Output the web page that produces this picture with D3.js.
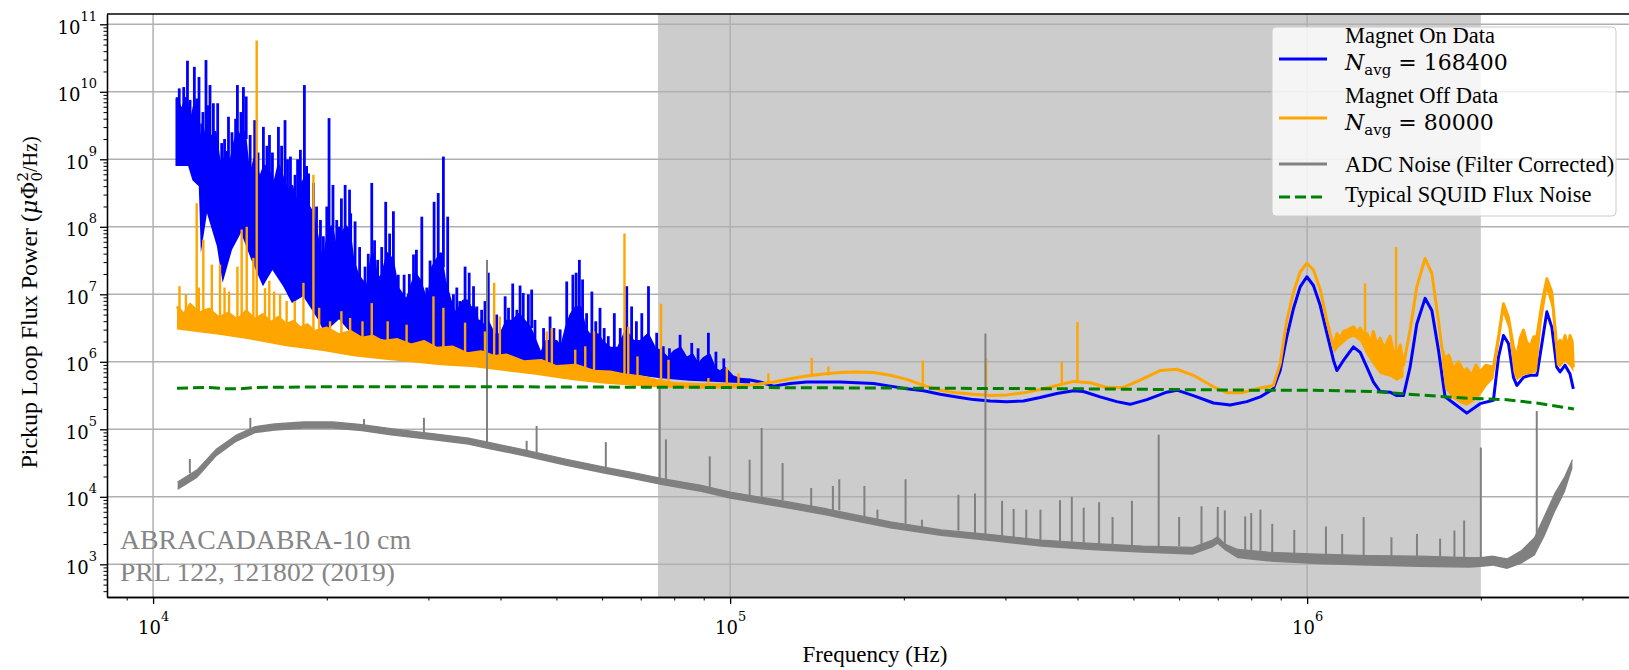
<!DOCTYPE html>
<html>
<head>
<meta charset="utf-8">
<script src="https://cdn.jsdelivr.net/npm/d3@7"></script>
<style>
  html, body { margin: 0; padding: 0; background: #fff; overflow: hidden; }
  svg { display: block; }
</style>
</head>
<body>
<svg id="chart" width="1629" height="670"></svg>
<script>
// frequencies in kHz, power as log10 of (muPhi0^2/Hz)
const freqDomain = [8320, 3.82e6]
const powerDomain = [328, 1.42e11]
const shadedBand = [75, 2000]

// upper edge of the dense magnet-on band, then the smooth trace
const magnetOnTrace = [
  [11.0, 8.9], [11.0, 9.9], [11.2, 9.7], [11.4, 9.9], [11.6, 9.5], [11.8, 9.8], [12.0, 9.4], [12.2, 9.2],
  [12.4, 9.5], [12.6, 9.3], [12.8, 9.4], [13.0, 9.0], [13.2, 8.9], [13.4, 9.1], [13.6, 8.9], [13.8, 9.2],
  [14.0, 9.4], [14.2, 9.3], [14.4, 9.4], [14.6, 8.9], [14.8, 8.8], [15.0, 9.0], [15.3, 8.7], [15.6, 8.9],
  [15.9, 8.8], [16.2, 8.6], [16.5, 8.9], [16.8, 8.7], [17.1, 8.5], [17.4, 8.6], [17.7, 8.3], [18.0, 8.6],
  [18.3, 8.7], [18.6, 8.3], [18.9, 8.2], [19.2, 7.9], [19.5, 7.6], [19.8, 7.5], [20.1, 7.9], [20.4, 8.0],
  [20.7, 7.7], [21.0, 7.6], [21.3, 7.9], [21.6, 8.0], [21.9, 7.9], [22.2, 7.5], [22.6, 7.3], [23.0, 7.2],
  [23.5, 7.1], [24.0, 7.6], [24.5, 7.2], [25.0, 7.3], [25.5, 7.6], [26.0, 7.5], [26.5, 7.1], [27.0, 7.0],
  [27.5, 6.9], [28.0, 7.1], [28.5, 7.3], [29.0, 7.2], [29.5, 7.0], [30.0, 6.9], [30.5, 7.4], [31.0, 7.5],
  [31.5, 7.6], [32.0, 7.2], [32.5, 7.0], [33.0, 6.8], [33.5, 6.7], [34.0, 6.8], [34.5, 6.9], [35.0, 6.9],
  [35.5, 6.8], [36.0, 6.8], [36.5, 6.6], [37.0, 6.6], [37.5, 6.5], [38.0, 6.6], [39.0, 6.4], [40.0, 6.4],
  [41.0, 6.6], [42.0, 6.6], [43.0, 6.7], [44.0, 6.6], [45.0, 6.5], [46.0, 6.3], [47.0, 6.1], [48.0, 6.3],
  [49.0, 6.3], [50.0, 6.3], [51.0, 6.2], [52.0, 6.5], [53.0, 6.7], [54.0, 6.8], [55.0, 6.8], [56.0, 6.5],
  [57.0, 6.4], [58.0, 6.4], [59.0, 6.4], [60.0, 6.3], [62.0, 6.2], [64.0, 6.2], [66.0, 6.45], [68.0, 6.3],
  [70.0, 6.3], [72.0, 6.4], [74.0, 6.2], [76.0, 6.15], [78.0, 6.05], [80.0, 6.15], [82.0, 6.2], [84.0, 6.05],
  [86.0, 6.1], [88.0, 5.95], [90.0, 6.05], [92.0, 6.1], [94.0, 5.9], [96.0, 5.85], [98.0, 5.9], [101.0, 5.78],
  [104.0, 5.74], [108.3, 5.73], [112.7, 5.7], [118.9, 5.64], [127.1, 5.68], [135.8, 5.7], [155.1, 5.7], [177.2, 5.68],
  [189.4, 5.64], [202.4, 5.6], [216.3, 5.57], [231.2, 5.52], [247.1, 5.48], [264.1, 5.44], [282.2, 5.42], [301.6, 5.41],
  [322.3, 5.42], [344.6, 5.47], [368.4, 5.53], [393.6, 5.57], [409.6, 5.56], [437.8, 5.48], [468.0, 5.41], [493.4, 5.37],
  [527.6, 5.44], [571.3, 5.55], [594.6, 5.58], [635.1, 5.5], [688.1, 5.39], [735.6, 5.36], [786.2, 5.41], [828.9, 5.48],
  [874, 5.6], [898, 5.87], [922, 6.37], [947, 6.79], [972.5, 7.11], [998.8, 7.26], [1025.5, 7.13], [1053, 6.84],
  [1082, 6.42], [1111, 6.02], [1126, 5.87], [1156, 6.02], [1203, 6.22], [1236, 6.14], [1269, 5.92], [1303, 5.7],
  [1338, 5.56], [1392, 5.55], [1430, 5.5], [1469, 5.5], [1508, 5.92], [1549, 6.56], [1601, 6.94], [1645, 6.76],
  [1689, 6.17], [1734, 5.48], [1793, 5.39], [1891, 5.24], [1994, 5.38], [2103, 5.43], [2146, 6.07], [2189, 6.39],
  [2233, 6.27], [2278, 5.77], [2309, 5.65], [2371, 5.77], [2435, 5.8], [2501, 5.8], [2552, 6.27], [2603, 6.74],
  [2655, 6.51], [2708, 5.92], [2744, 5.85], [2799, 5.95], [2855, 5.82], [2893, 5.6]
]
const magnetOnFloor = [[
  [11.0, 8.9], [11.5, 8.9], [11.7, 8.69], [12.0, 8.6], [12.1, 7.61], [12.4, 8.2], [12.9, 7.71], [13.2, 7.17],
  [13.7, 7.66], [14.2, 7.91], [14.8, 7.51], [15.5, 7.12], [16.1, 7.36], [16.8, 7.12], [17.4, 6.87], [18.2, 6.97],
  [19.3, 6.63], [19.8, 6.43], [21.0, 6.63], [22.0, 6.43], [23.0, 6.33], [25.0, 6.33], [27.0, 6.28], [29.0, 6.23],
  [31.0, 6.2], [33.0, 6.13], [35.0, 6.08], [38.0, 6.03], [42.0, 6.0], [47.0, 5.93], [55.0, 5.88], [65.0, 5.83],
  [75.0, 5.76], [85.0, 5.72], [95.0, 5.7], [108.3, 5.68]
]]
// [kHz, base, top]
const magnetOnSpikes = [
  [11.1, 9.8, 10.05], [11.3, 9.7, 10.07], [11.47, 9.7, 10.46], [11.59, 9.5, 9.88], [11.79, 9.5, 10.37], [11.9, 9.4, 9.9],
  [12.01, 9.4, 10.22], [12.14, 9.2, 9.53], [12.2, 9.2, 9.7], [12.35, 9.2, 10.47], [12.45, 9.3, 9.8], [12.55, 9.3, 10.1],
  [12.72, 9.3, 9.83], [12.94, 9.0, 9.83], [13.15, 8.9, 9.24], [13.3, 8.9, 9.3], [13.51, 8.9, 9.63], [13.7, 8.9, 9.4],
  [13.9, 9.0, 9.6], [14.0, 9.2, 10.1], [14.2, 9.2, 9.7], [14.34, 9.3, 10.07], [14.5, 9.3, 9.93], [14.73, 8.8, 9.36],
  [15.0, 8.8, 9.58], [15.2, 8.8, 9.1], [15.53, 8.7, 9.48], [15.75, 8.7, 9.2], [15.91, 8.7, 9.36], [16.1, 8.6, 9.1],
  [16.49, 8.6, 9.48], [16.7, 8.6, 9.2], [16.93, 8.6, 9.58], [17.1, 8.5, 9.0], [17.3, 8.5, 9.04], [17.62, 8.3, 8.77],
  [17.8, 8.3, 9.0], [18.0, 8.3, 9.14], [18.29, 8.4, 10.1], [18.45, 8.3, 8.9], [18.6, 8.2, 8.79], [18.96, 8.0, 8.65],
  [19.2, 7.8, 8.3], [19.5, 7.6, 8.1], [19.73, 7.5, 7.86], [20.0, 7.7, 8.3], [20.18, 7.8, 9.61], [20.5, 7.7, 8.62],
  [20.81, 7.6, 8.1], [21.0, 7.6, 8.0], [21.2, 7.7, 8.42], [21.52, 7.8, 8.62], [21.9, 7.8, 8.55], [22.0, 7.6, 8.2],
  [22.39, 7.3, 8.08], [22.8, 7.2, 7.7], [23.3, 7.1, 7.41], [23.6, 7.2, 7.6], [23.93, 7.3, 8.65], [24.2, 7.3, 7.8],
  [24.5, 7.2, 7.51], [24.9, 7.2, 7.7], [25.3, 7.3, 8.37], [25.7, 7.3, 7.9], [26.09, 7.3, 8.23], [26.6, 7.0, 7.29],
  [27.23, 6.9, 7.29], [27.8, 6.9, 7.3], [28.27, 7.1, 7.59], [28.6, 7.1, 7.66], [29.22, 7.0, 8.15], [29.8, 6.9, 7.1],
  [30.2, 6.9, 7.5], [30.69, 7.2, 8.37], [31.2, 7.4, 8.5], [31.85, 7.4, 9.04], [32.4, 7.0, 8.15], [33.15, 6.7, 7.0],
  [33.6, 6.7, 7.1], [34.0, 6.7, 6.9], [34.73, 6.8, 7.41], [35.3, 6.8, 7.32], [35.92, 6.7, 7.12], [36.4, 6.6, 6.82],
  [37.1, 6.5, 6.77], [37.6, 6.5, 6.9], [38.1, 6.5, 7.32], [39.4, 6.4, 6.7], [40.75, 6.4, 6.97], [41.3, 6.5, 6.8],
  [42.0, 6.5, 7.16], [42.7, 6.6, 6.77], [43.25, 6.6, 7.13], [43.8, 6.6, 7.02], [44.7, 6.5, 7.0], [45.3, 6.5, 7.07],
  [45.9, 6.3, 6.62], [47.5, 6.1, 6.5], [48.75, 6.3, 6.67], [49.5, 6.2, 6.5], [50.75, 6.2, 6.48], [52.1, 6.5, 7.19],
  [53.4, 6.6, 7.29], [54.1, 6.7, 7.32], [54.8, 6.7, 7.51], [55.5, 6.6, 7.22], [56.4, 6.4, 6.72], [57.6, 6.4, 7.04],
  [58.5, 6.3, 6.6], [59.5, 6.3, 6.8], [60.5, 6.2, 6.5], [61.5, 6.2, 6.38], [63.0, 6.2, 6.72], [64.5, 6.2, 6.5],
  [66.2, 6.3, 7.12], [67.5, 6.3, 6.82], [68.8, 6.3, 6.6], [70.3, 6.3, 6.72], [72.2, 6.3, 7.12], [74.6, 6.2, 6.43],
  [76.6, 6.1, 6.23], [78.5, 6.0, 6.2], [81.9, 6.1, 6.4], [85.8, 6.0, 6.28], [88.0, 5.95, 6.2], [91.7, 6.0, 6.43],
  [94.5, 5.9, 6.15], [97.5, 5.85, 6.05]
]

// upper edge of the magnet-off trace (noise tops where the band is noisy)
const magnetOffTrace = [
  [11.0, 6.82], [11.3, 6.7], [11.6, 6.85], [12.0, 6.72], [12.5, 6.78], [13.0, 6.65], [13.5, 6.72], [14.0, 6.62],
  [14.5, 6.75], [15.0, 6.63], [15.5, 6.7], [16.0, 6.58], [16.5, 6.66], [17.0, 6.55], [17.5, 6.6], [18.0, 6.5],
  [18.5, 6.55], [19.0, 6.45], [20.0, 6.5], [21.0, 6.4], [22.0, 6.45], [23.0, 6.35], [24.0, 6.38], [25.0, 6.3],
  [26.5, 6.33], [28.0, 6.25], [29.5, 6.3], [31.0, 6.2], [33.0, 6.22], [35.0, 6.12], [37.0, 6.15], [39.0, 6.08],
  [41.0, 6.1], [44.0, 6.0], [47.0, 6.02], [50.0, 5.93], [54.0, 5.95], [58.0, 5.86], [62.0, 5.85], [66.0, 5.8],
  [70.0, 5.78], [75.0, 5.72], [80.0, 5.68], [90.0, 5.66], [100.0, 5.66], [104.1, 5.65], [110.0, 5.66], [118.9, 5.7],
  [127.1, 5.75], [135.8, 5.79], [145.0, 5.82], [155.1, 5.84], [166.0, 5.85], [177.2, 5.84], [189.4, 5.8], [202.4, 5.74],
  [216.3, 5.65], [231.2, 5.58], [247.1, 5.54], [264.1, 5.52], [282.2, 5.5], [301.6, 5.51], [322.3, 5.54], [344.6, 5.59],
  [368.4, 5.65], [393.6, 5.71], [420.6, 5.69], [449.6, 5.62], [480.4, 5.62], [513.5, 5.73], [555.9, 5.87], [594.6, 5.89],
  [635.1, 5.8], [688.1, 5.63], [728.0, 5.54], [770.0, 5.54], [818.0, 5.6], [874.0, 5.65], [898.0, 5.97], [922.0, 6.61],
  [947.0, 7.03], [972.5, 7.33], [998.8, 7.46], [1025.5, 7.36], [1053.0, 7.08], [1082.0, 6.61], [1111.0, 6.22], [1126.0, 6.42],
  [1141.0, 6.35], [1156.0, 6.45], [1180.0, 6.48], [1203.0, 6.52], [1220.0, 6.45], [1236.0, 6.5], [1255.0, 6.4], [1269.0, 6.42],
  [1290.0, 6.3], [1303.0, 6.45], [1320.0, 6.25], [1338.0, 6.35], [1360.0, 6.2], [1392.0, 6.38], [1410.0, 6.15], [1430.0, 6.1],
  [1450.0, 6.25], [1469.0, 5.95], [1508.0, 6.47], [1549.0, 7.11], [1601.0, 7.53], [1645.0, 7.31], [1689.0, 6.61], [1712.0, 6.2],
  [1734.0, 6.05], [1760.0, 6.1], [1793.0, 5.9], [1830.0, 6.0], [1870.0, 5.85], [1891.0, 5.9], [1930.0, 5.8], [1960.0, 5.95],
  [1994.0, 5.85], [2040.0, 5.95], [2103.0, 5.92], [2146.0, 6.37], [2189.0, 6.86], [2233.0, 6.66], [2278.0, 6.22], [2309.0, 6.07],
  [2340.0, 6.35], [2371.0, 6.47], [2400.0, 6.3], [2435.0, 6.22], [2470.0, 6.37], [2501.0, 6.37], [2552.0, 6.86], [2603.0, 7.23],
  [2655.0, 7.03], [2708.0, 6.22], [2744.0, 6.32], [2770.0, 6.25], [2799.0, 6.39], [2830.0, 6.2], [2855.0, 6.39], [2880.0, 6.3],
  [2893.0, 5.92]
]
const magnetOffFloor = [
  [[11.0, 6.48], [13.0, 6.4], [14.73, 6.33], [17.0, 6.23], [19.7, 6.16], [22.4, 6.08], [25.3, 6.03], [28.3, 5.99],
   [31.5, 5.95], [36.0, 5.92], [40.0, 5.87], [46.0, 5.81], [53.0, 5.73], [60.0, 5.68], [69.0, 5.64], [75.0, 5.62],
   [90.0, 5.6], [104.1, 5.61]],
  [[1111.0, 6.12], [1130.0, 6.2], [1156.0, 6.28], [1180.0, 6.34], [1203.0, 6.37], [1236.0, 6.3], [1269.0, 6.1], [1303.0, 5.95],
   [1338.0, 5.82], [1392.0, 5.78], [1430.0, 5.72], [1469.0, 5.77]],
  [[1712.0, 6.0], [1734.0, 5.6], [1793.0, 5.45], [1850.0, 5.38], [1891.0, 5.35], [1950.0, 5.42], [1994.0, 5.5], [2050.0, 5.65],
   [2103.0, 5.75], [2146.0, 6.2], [2189.0, 6.7], [2233.0, 6.5], [2278.0, 5.85], [2309.0, 5.72], [2371.0, 5.8], [2435.0, 5.82],
   [2501.0, 5.85], [2552.0, 6.6], [2603.0, 7.05], [2655.0, 6.8], [2708.0, 5.95], [2744.0, 5.92], [2799.0, 6.0], [2855.0, 5.93],
   [2893.0, 5.85]]
]
const magnetOffSpikes = [
  [11.11, 6.7, 7.12], [11.4, 6.7, 7.0], [11.9, 6.7, 8.35], [12.0, 6.7, 7.1], [12.22, 6.7, 7.81], [12.64, 6.7, 7.44],
  [13.06, 6.6, 7.44], [13.3, 6.6, 7.1], [13.54, 6.6, 7.04], [14.0, 6.6, 7.41], [14.24, 6.6, 7.96], [14.53, 6.6, 8.0],
  [14.92, 6.6, 7.54], [15.12, 6.6, 10.76], [15.63, 6.6, 7.09], [15.9, 6.6, 7.2], [16.21, 6.5, 7.04], [16.6, 6.5, 7.0],
  [17.04, 6.5, 6.9], [17.6, 6.5, 6.9], [18.22, 6.5, 7.17], [18.96, 6.4, 8.77], [19.4, 6.4, 6.8], [20.26, 6.4, 6.6],
  [21.2, 6.4, 6.75], [21.95, 6.3, 6.65], [23.06, 6.3, 6.6], [23.93, 6.3, 6.87], [25.5, 6.2, 6.6], [27.5, 6.2, 6.55],
  [30.61, 6.1, 6.97], [31.85, 6.1, 6.8], [34.73, 6.0, 6.58], [37.6, 6.0, 6.45], [39.0, 6.0, 7.17], [39.9, 5.95, 6.67],
  [48.1, 5.9, 6.45], [49.1, 5.9, 6.5], [53.9, 5.85, 6.18], [56.1, 5.8, 6.23], [58.1, 5.8, 6.45], [65.6, 5.75, 7.9],
  [66.6, 5.75, 6.52], [69.1, 5.7, 6.08], [75.9, 5.65, 6.86], [78.2, 5.65, 6.03], [91.7, 5.62, 5.76], [98.7, 5.62, 5.91],
  [103.4, 5.62, 5.83], [116.5, 5.68, 5.83], [138.5, 5.78, 6.06], [148.0, 5.8, 5.93], [215.8, 5.65, 6.02], [277.7, 5.5, 6.05],
  [375.7, 5.66, 6.0], [399.9, 5.7, 6.59], [1260.0, 6.3, 7.16], [1426.0, 6.0, 7.7]
]

const adcTrace = [
  [11.03, 4.22], [11.92, 4.4], [12.88, 4.71], [13.91, 4.91], [15.03, 5.04], [16.24, 5.08], [18.24, 5.11], [20.49, 5.11],
  [23.0, 5.07], [25.83, 5.01], [30.2, 4.94], [35.2, 4.87], [38.0, 4.81], [44.4, 4.69], [51.8, 4.56], [60.5, 4.44],
  [67.9, 4.36], [76.3, 4.27], [89.1, 4.17], [100, 4.07], [121.4, 3.95], [147.4, 3.82], [155, 3.78], [189.6, 3.63],
  [231.9, 3.51], [283.4, 3.44], [346.3, 3.36], [423.3, 3.31], [517.6, 3.27], [632.8, 3.25], [685.5, 3.36], [699.4, 3.41],
  [720, 3.3], [758, 3.22], [855, 3.18], [1045, 3.15], [1277, 3.13], [1562, 3.12], [1909, 3.1], [2000, 3.1],
  [2100, 3.12], [2220, 3.08], [2350, 3.2], [2480, 3.4], [2581, 3.72], [2687, 4.05], [2797, 4.3], [2882, 4.55]
]
const adcFloor = [[
  [11.03, 4.1], [11.92, 4.28], [12.88, 4.6], [13.91, 4.81], [15.03, 4.94], [16.24, 4.98], [18.24, 5.01], [20.49, 5.01],
  [23.0, 4.97], [25.83, 4.91], [30.2, 4.84], [35.2, 4.77], [38.0, 4.71], [44.4, 4.59], [51.8, 4.46], [60.5, 4.34],
  [67.9, 4.26], [76.3, 4.17], [89.1, 4.07], [100, 3.97], [121.4, 3.85], [147.4, 3.72], [155, 3.68], [189.6, 3.53],
  [231.9, 3.42], [283.4, 3.34], [346.3, 3.26], [423.3, 3.21], [517.6, 3.17], [632.8, 3.14], [685.5, 3.25], [699.4, 3.3],
  [720, 3.21], [758, 3.09], [855, 3.04], [1045, 3.0], [1277, 2.98], [1562, 2.96], [1909, 2.95], [2000, 2.96],
  [2100, 2.98], [2220, 2.93], [2350, 3.01], [2480, 3.13], [2581, 3.42], [2687, 3.77], [2797, 4.07], [2882, 4.42]
]]
const adcSpikes = [
  [11.58, 4.35, 4.56], [14.74, 5.0, 5.17], [23.2, 5.05, 5.15], [29.47, 4.95, 5.17], [37.9, 4.8, 7.51], [44.4, 4.65, 4.83],
  [46.2, 4.6, 5.05], [60.9, 4.4, 4.81], [75.5, 4.25, 5.6], [77.4, 4.2, 4.85], [92.2, 4.1, 4.6], [108.1, 4.0, 4.55],
  [113.4, 4.0, 5.02], [123.3, 3.95, 4.5], [138.2, 3.85, 4.13], [150.7, 3.8, 4.16], [154.6, 3.8, 4.26], [170.9, 3.7, 4.16],
  [180, 3.65, 3.81], [201.4, 3.6, 4.26], [215, 3.55, 3.66], [248.7, 3.5, 4.03], [265.7, 3.45, 4.05], [277, 3.45, 6.42],
  [296, 3.42, 3.94], [310, 3.4, 3.82], [326, 3.38, 3.81], [345, 3.36, 3.81], [373, 3.34, 3.95], [391, 3.33, 4.0],
  [410, 3.32, 3.84], [436, 3.3, 3.92], [460, 3.3, 3.7], [497, 3.28, 3.94], [553, 3.26, 4.92], [600, 3.27, 3.7],
  [656, 3.3, 3.86], [700, 3.35, 3.85], [720, 3.28, 3.8], [781, 3.2, 3.71], [800, 3.2, 3.76], [830, 3.2, 3.81],
  [870, 3.18, 3.6], [950, 3.16, 3.51], [1078, 3.14, 3.56], [1150, 3.14, 3.45], [1253, 3.13, 3.7], [1400, 3.12, 3.4],
  [1550, 3.12, 3.45], [1700, 3.11, 3.38], [1800, 3.11, 3.5], [1871, 3.1, 3.65], [2000, 3.1, 4.73], [2500, 3.4, 5.27]
]

const squidNoise = [
  [11.0, 5.61], [12.5, 5.62], [13.4, 5.6], [14.2, 5.6], [15.0, 5.62], [20.0, 5.63], [40.0, 5.63], [100.0, 5.62],
  [200.0, 5.61], [400.0, 5.6], [800.0, 5.58], [1000.0, 5.58], [1300.0, 5.56], [1500.0, 5.52], [1900.0, 5.46],
  [2200.0, 5.44], [2500.0, 5.39], [2900.0, 5.3]
]

const legendLabels = ['Magnet On Data', 'Magnet Off Data', 'ADC Noise (Filter Corrected)', 'Typical SQUID Flux Noise']
const legendNavg = [168400, 80000, null, null]
const legendColors = ['#0000ff', '#ffa500', '#808080', '#008000']
const noteLines = ['ABRACADABRA-10 cm', 'PRL 122, 121802 (2019)']

const SERIF = "'Liberation Serif', 'Times New Roman', serif"
const MATH = "'DejaVu Serif', serif"

const PLOT = { left: 107, right: 1643, top: 14, bottom: 597 }

const svg = d3.select('#chart')
const x = d3.scaleLog().domain(freqDomain).range([PLOT.left, PLOT.right])
const y = d3.scaleLog().domain(powerDomain).range([PLOT.bottom, PLOT.top])

const px = d => x(d[0] * 1e3)
const py = v => y(Math.pow(10, v))
const line = d3.line().x(px).y(d => py(d[1]))

svg.append('clipPath').attr('id', 'plot-clip')
  .append('rect')
  .attr('x', PLOT.left).attr('y', PLOT.top)
  .attr('width', PLOT.right - PLOT.left).attr('height', PLOT.bottom - PLOT.top)

const plot = svg.append('g').attr('clip-path', 'url(#plot-clip)')

// shaded analysis band
plot.append('rect')
  .attr('x', x(shadedBand[0] * 1e3))
  .attr('y', PLOT.top)
  .attr('width', x(shadedBand[1] * 1e3) - x(shadedBand[0] * 1e3))
  .attr('height', PLOT.bottom - PLOT.top)
  .attr('fill', '#cccccc')

const isMajor = d => Math.abs(Math.log10(d) - Math.round(Math.log10(d))) < 1e-9
const xMajor = x.ticks().filter(isMajor)
const xMinor = x.ticks().filter(d => !isMajor(d))
const yMajor = y.ticks().filter(isMajor)
const yMinor = y.ticks().filter(d => !isMajor(d))

// grid
const grid = plot.append('g').attr('stroke', '#b0b0b0').attr('stroke-width', 1.5)
grid.selectAll('.gx').data(xMajor).join('line')
  .attr('x1', d => x(d)).attr('x2', d => x(d))
  .attr('y1', PLOT.top).attr('y2', PLOT.bottom)
grid.selectAll('.gy').data(yMajor).join('line')
  .attr('y1', d => y(d)).attr('y2', d => y(d))
  .attr('x1', PLOT.left).attr('x2', PLOT.right)

function bandPath(trace, floor) {
  const lo = floor[0][0]
  const hi = floor[floor.length - 1][0]
  const top = trace.filter(d => d[0] >= lo && d[0] <= hi)
  return line(top.concat(floor.slice().reverse())) + 'Z'
}

function drawSeries(g, s) {
  s.floors.forEach(f => {
    g.append('path').attr('d', bandPath(s.trace, f)).attr('fill', s.color)
  })
  g.append('path')
    .datum(s.trace)
    .attr('d', line)
    .attr('fill', 'none')
    .attr('stroke', s.color)
    .attr('stroke-width', s.width)
    .attr('stroke-linejoin', 'round')
  g.selectAll(null).data(s.spikes).join('line')
    .attr('x1', px).attr('x2', px)
    .attr('y1', d => py(d[1])).attr('y2', d => py(d[2]))
    .attr('stroke', s.color)
    .attr('stroke-width', s.spikeWidth)
}

drawSeries(plot.append('g'), { trace: magnetOnTrace, floors: magnetOnFloor, spikes: magnetOnSpikes, color: legendColors[0], width: 3, spikeWidth: 2.8 })
drawSeries(plot.append('g'), { trace: magnetOffTrace, floors: magnetOffFloor, spikes: magnetOffSpikes, color: legendColors[1], width: 3, spikeWidth: 2.4 })
drawSeries(plot.append('g'), { trace: adcTrace, floors: adcFloor, spikes: adcSpikes, color: legendColors[2], width: 1.2, spikeWidth: 2 })

plot.append('path')
  .datum(squidNoise)
  .attr('d', line)
  .attr('fill', 'none')
  .attr('stroke', legendColors[3])
  .attr('stroke-width', 3)
  .attr('stroke-dasharray', '11,5')

// annotation
const note = svg.append('g').attr('fill', '#868686').attr('font-family', SERIF)
note.append('text').attr('x', 120).attr('y', 549).attr('font-size', 27)
  .attr('textLength', 291).attr('lengthAdjust', 'spacingAndGlyphs')
  .text(noteLines[0])
note.append('text').attr('x', 120).attr('y', 581).attr('font-size', 26)
  .attr('textLength', 275).attr('lengthAdjust', 'spacingAndGlyphs')
  .text(noteLines[1])

// axes
function powerLabel(sel, size) {
  sel.each(function (d) {
    const t = d3.select(this).text(null)
    t.append('tspan').text('10')
    t.append('tspan').attr('dy', -13).attr('font-size', size * 0.72).text(Math.round(Math.log10(d)))
  })
}

const xAxisMinor = svg.append('g').attr('transform', `translate(0,${PLOT.bottom})`)
  .call(d3.axisBottom(x).tickValues(xMinor).tickSize(3.5).tickSizeOuter(0).tickFormat(''))
const xAxis = svg.append('g').attr('transform', `translate(0,${PLOT.bottom})`)
  .call(d3.axisBottom(x).tickValues(xMajor).tickSize(7).tickSizeOuter(0))
xAxis.selectAll('.tick text')
  .attr('y', 37).attr('dy', null)
  .attr('font-family', MATH).attr('font-size', 18).attr('fill', '#000')
  .call(powerLabel, 18)

const yAxisMinor = svg.append('g').attr('transform', `translate(${PLOT.left},0)`)
  .call(d3.axisLeft(y).tickValues(yMinor).tickSize(3.5).tickSizeOuter(0).tickFormat(''))
const yAxis = svg.append('g').attr('transform', `translate(${PLOT.left},0)`)
  .call(d3.axisLeft(y).tickValues(yMajor).tickSize(7).tickSizeOuter(0))
yAxis.selectAll('.tick text')
  .attr('x', -10).attr('dy', 9)
  .attr('font-family', MATH).attr('font-size', 18).attr('fill', '#000')
  .call(powerLabel, 18)

svg.selectAll('.domain').attr('stroke', '#000').attr('stroke-width', 1.3)
xAxis.selectAll('.tick line').attr('stroke-width', 1.3)
yAxis.selectAll('.tick line').attr('stroke-width', 1.3)
xAxisMinor.selectAll('.tick line').attr('stroke-width', 1)
yAxisMinor.selectAll('.tick line').attr('stroke-width', 1)

svg.append('line')
  .attr('x1', PLOT.left).attr('x2', PLOT.right)
  .attr('y1', PLOT.top).attr('y2', PLOT.top)
  .attr('stroke', '#000').attr('stroke-width', 1.3)

svg.append('text')
  .attr('x', (PLOT.left + PLOT.right) / 2).attr('y', 662)
  .attr('text-anchor', 'middle')
  .attr('font-family', SERIF).attr('font-size', 23)
  .text('Frequency (Hz)')

const yLabel = svg.append('text')
  .attr('transform', `translate(37,${(PLOT.top + PLOT.bottom) / 2 - 3}) rotate(-90)`)
  .attr('text-anchor', 'middle')
  .attr('font-family', SERIF).attr('font-size', 24)
yLabel.append('tspan').text('Pickup Loop Flux Power (')
yLabel.append('tspan').attr('font-family', MATH).attr('font-style', 'italic').attr('font-size', 22).text('\u03bc')
yLabel.append('tspan').attr('font-family', MATH).attr('font-size', 22).text('\u03a6')
yLabel.append('tspan').attr('font-family', MATH).attr('font-size', 15).attr('dy', 5).text('0')
yLabel.append('tspan').attr('font-family', MATH).attr('font-size', 15).attr('dx', -9.5).attr('dy', -14).text('2')
yLabel.append('tspan').attr('dy', 9).attr('font-size', 20).text('/Hz)')

// legend
const legend = svg.append('g')
legend.append('rect')
  .attr('x', 1272).attr('y', 27).attr('width', 344).attr('height', 189)
  .attr('rx', 4)
  .attr('fill', '#fff').attr('fill-opacity', 0.8)
  .attr('stroke', '#cccccc').attr('stroke-width', 1)

const legendLineY = [59, 118, 164, 197]
const legendTextY = [43, 103, 172, 202]
legendLabels.forEach((label, i) => {
  legend.append('line')
    .attr('x1', 1279).attr('x2', 1327)
    .attr('y1', legendLineY[i]).attr('y2', legendLineY[i])
    .attr('stroke', legendColors[i])
    .attr('stroke-width', 3)
    .attr('stroke-dasharray', i === 3 ? '11,5' : null)
  legend.append('text')
    .attr('x', 1345).attr('y', legendTextY[i])
    .attr('font-family', SERIF).attr('font-size', 22.5)
    .text(label)
  if (legendNavg[i] != null) {
    const t = legend.append('text')
      .attr('x', 1345).attr('y', legendTextY[i] + 27)
      .attr('font-family', MATH).attr('font-size', 22)
    t.append('tspan').attr('font-style', 'italic').text('N')
    t.append('tspan').attr('font-size', 15).attr('dy', 5).text('avg')
    t.append('tspan').attr('dy', -5).text(' = ' + legendNavg[i])
  }
})
</script>
</body>
</html>
